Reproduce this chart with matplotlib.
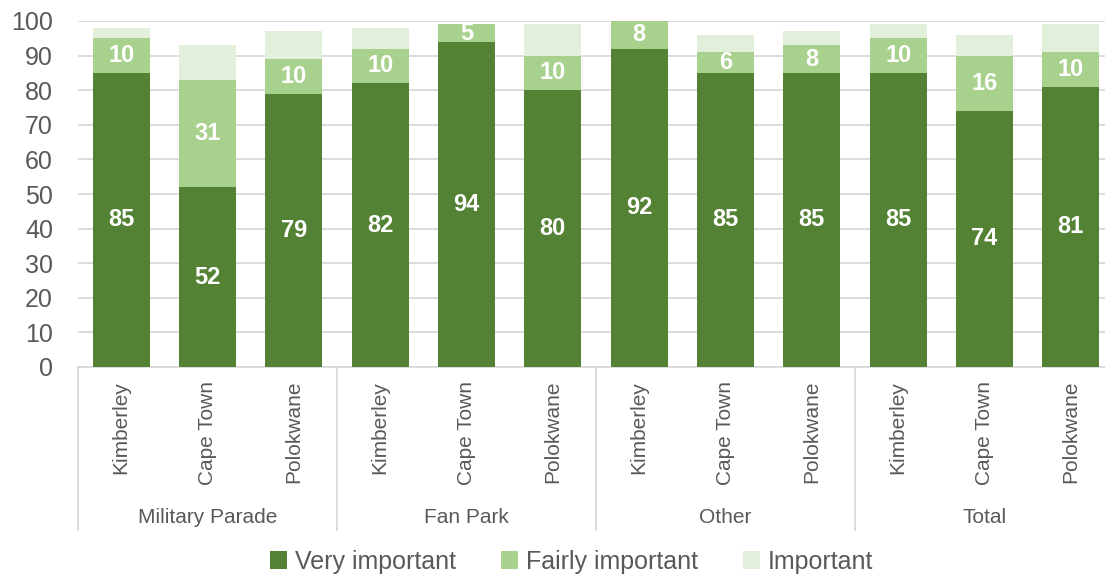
import numpy as np
import matplotlib
matplotlib.use('Agg')
import matplotlib.pyplot as plt
from matplotlib.transforms import blended_transform_factory

plt.rcParams['font.family'] = ['Liberation Sans', 'DejaVu Sans']

groups = ['Military Parade', 'Fan Park', 'Other', 'Total']
cities = ['Kimberley', 'Cape Town', 'Polokwane']

very = [85, 52, 79, 82, 94, 80, 92, 85, 85, 85, 74, 81]
fairly = [10, 31, 10, 10, 5, 10, 8, 6, 8, 10, 16, 10]
important = [3, 10, 8, 6, 0, 9, 0, 5, 4, 4, 6, 8]

series = [('Very important', very, '#548235'),
          ('Fairly important', fairly, '#A9D18E'),
          ('Important', important, '#E2EFDA')]
labelled = ['Very important', 'Fairly important']

grey = '#595959'
fig = plt.figure(figsize=(11.05, 5.8), dpi=100)
ax = fig.add_axes([78 / 1105, 1 - 367 / 580, 1036 / 1105, 346 / 580])

x = np.arange(len(very))
bottom = np.zeros(len(very))
for name, vals, color in series:
    vals = np.array(vals, dtype=float)
    ax.bar(x, vals, 0.66, bottom=bottom, color=color, label=name, zorder=3)
    if name in labelled:
        for xi, b, v in zip(x, bottom, vals):
            ax.text(xi, b + v / 2, '%d' % v, ha='center', va='center',
                    color='white', fontsize=17, fontweight='bold', zorder=4)
    bottom += vals

ax.set_ylim(0, 100)
ax.set_xlim(-0.5, 11.5)
ax.set_yticks(np.arange(0, 101, 10))
ax.yaxis.grid(True, color='#D9D9D9', linewidth=1.3, zorder=0)
ax.tick_params(axis='y', length=0, labelsize=18, labelcolor=grey, pad=18)
ax.set_xticks(x)
ax.set_xticklabels(cities * len(groups), rotation=90, fontsize=15, color=grey)
ax.tick_params(axis='x', length=0, pad=10)
for side in ['top', 'right', 'left']:
    ax.spines[side].set_visible(False)
ax.spines['bottom'].set_color('#D9D9D9')
ax.spines['bottom'].set_linewidth(1.3)

# group separators and group names under the city labels
trans = blended_transform_factory(ax.transData, ax.transAxes)
for i in range(len(groups) + 1):
    ax.plot([i * 3 - 0.5] * 2, [0, -0.47], transform=trans, color='#D9D9D9',
            linewidth=1.3, clip_on=False)
for i, g in enumerate(groups):
    ax.text(i * 3 + 1, -0.436, g, transform=trans, ha='center', va='center',
            fontsize=15, color=grey)

fig.legend(loc='lower center', ncol=3, frameon=False, fontsize=18,
           bbox_to_anchor=(0.517, -0.028), handlelength=0.7, handleheight=0.7,
           handletextpad=0.3, columnspacing=1.8, labelcolor=grey)

fig.savefig('out.png', dpi=100)
